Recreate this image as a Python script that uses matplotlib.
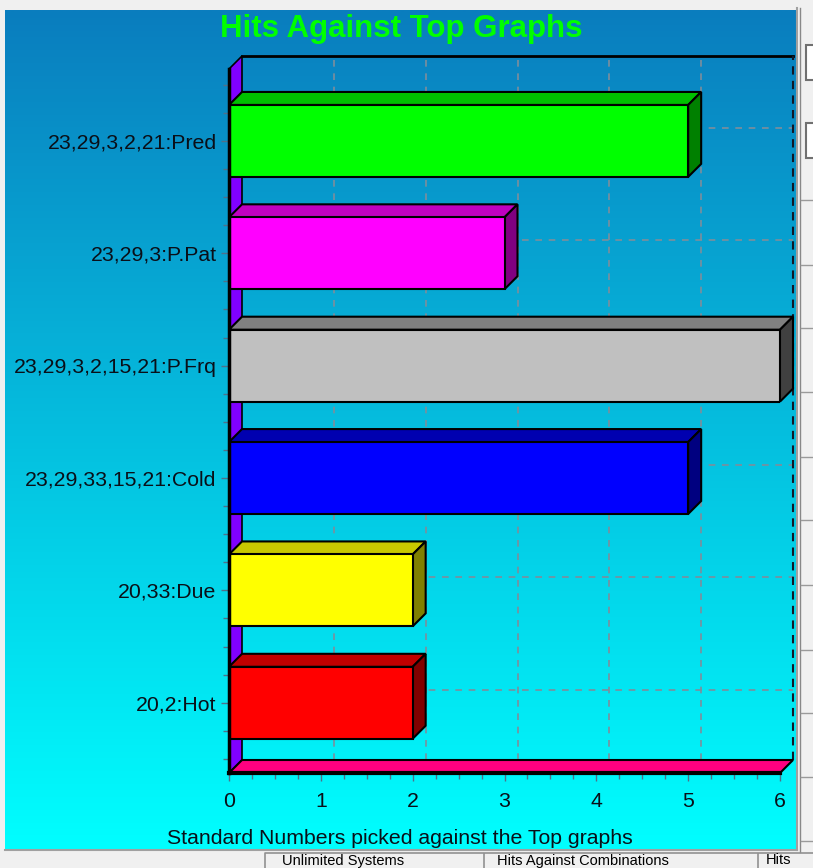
import numpy as np
import matplotlib
matplotlib.use("Agg")
import matplotlib.pyplot as plt
from matplotlib.patches import Polygon, Rectangle
from matplotlib.ticker import MultipleLocator

# ---------------- data ----------------
categories = ["20,2:Hot", "20,33:Due", "23,29,33,15,21:Cold",
              "23,29,3,2,15,21:P.Frq", "23,29,3:P.Pat", "23,29,3,2,21:Pred"]
hits = [2, 2, 5, 6, 3, 5]
front_colors = ["#FF0000", "#FFFF00", "#0000FF", "#C0C0C0", "#FF00FF", "#00FF00"]
top_colors = ["#C00000", "#C8C800", "#0000B0", "#808080", "#C000C0", "#00C000"]
side_colors = ["#800000", "#808000", "#000080", "#404040", "#800080", "#008000"]
x_ticks = [0, 1, 2, 3, 4, 5, 6]
title = "Hits Against Top Graphs"
xlabel = "Standard Numbers picked against the Top graphs"
tab_labels = ["Unlimited Systems", "Hits Against Combinations", "Hits"]

FONT = ["Liberation Sans", "DejaVu Sans"]
plt.rcParams["font.family"] = FONT

W, H, DPI = 813, 868, 100
fig = plt.figure(figsize=(W / DPI, H / DPI), dpi=DPI)
fig.patch.set_facecolor("#F0F0F0")

# ---------------- background layer (pixel coords) ----------------
bg = fig.add_axes([0, 0, 1, 1], zorder=0)
bg.set_xlim(0, W)
bg.set_ylim(H, 0)
bg.axis("off")
g = np.linspace(0, 1, 256).reshape(-1, 1, 1)
c_top = np.array([10, 125, 190]) / 255
c_bot = np.array([0, 255, 255]) / 255
img = c_top + (c_bot - c_top) * g
bg.imshow(img, extent=(5, 797, 850, 10), aspect="auto", interpolation="bilinear")
bg.plot([5, 797], [850, 850], color="#A0A0A0", lw=1.5)
bg.plot([797, 797], [8, 850], color="#A0A0A0", lw=1.5)
# right-hand UI panel
bg.plot([800, 800], [8, 852], color="#888888", lw=1)
for yy in [45, 123]:
    bg.add_patch(Rectangle((806, yy), 10, 35, facecolor="white", edgecolor="#707070", lw=1.5))
for yy in [200, 265, 328, 392, 457, 520, 585, 650, 713, 777, 841]:
    bg.plot([801, 813], [yy, yy], color="#9a9a9a", lw=1)
# bottom tabs
for x0, x1 in [(265, 483), (484, 757), (758, 830)]:
    bg.plot([x0, x0, x1], [868, 853, 853], color="#909090", lw=1.2)
for x, lab in zip([282, 497, 766], tab_labels):
    bg.text(x, 860.5, lab, fontsize=10.5, va="center", ha="left", color="#000000")

# ---------------- main axes (front plane) ----------------
L, R, T, B = 229, 780, 69, 773
ax = fig.add_axes([L / W, 1 - B / H, (R - L) / W, (B - T) / H], zorder=1)
ax.patch.set_visible(False)
ylo, yhi = -0.625, 5.64
ax.set_xlim(0, 6)
ax.set_ylim(ylo, yhi)

depth = 13
dx = depth * 6 / (R - L)
dy = depth * (yhi - ylo) / (B - T)

grid_kw = dict(color="#7d8e9c", lw=1.2, ls=(0, (4, 4)), clip_on=False, zorder=1)
for k in x_ticks[1:-1]:
    ax.plot([k + dx, k + dx], [ylo + dy, yhi + dy], **grid_kw)
for i in range(len(categories)):
    ax.plot([dx, 6 + dx], [i + dy, i + dy], **grid_kw)
ax.plot([dx, 6 + dx], [yhi + dy, yhi + dy], color="black", lw=2, clip_on=False, zorder=1)
ax.plot([6 + dx, 6 + dx], [ylo + dy, yhi + dy], color="#101828", lw=1.5,
        ls=(0, (4, 3)), clip_on=False, zorder=1)

# left wall and floor
ax.add_patch(Polygon([(0, ylo), (0, yhi), (dx, yhi + dy), (dx, ylo + dy)],
                     closed=True, facecolor="#8000FF", edgecolor="black", lw=1.2,
                     clip_on=False, zorder=2))
ax.add_patch(Polygon([(0, ylo), (6, ylo), (6 + dx, ylo + dy), (dx, ylo + dy)],
                     closed=True, facecolor="#FF0080", edgecolor="black", lw=1.5,
                     clip_on=False, zorder=2))

# bars
bh = 0.64
ypos = np.arange(len(categories))
ax.barh(ypos, hits, height=bh, color=front_colors, edgecolor="black", lw=1.5, zorder=4)
for i, v in enumerate(hits):
    y0, y1 = i - bh / 2, i + bh / 2
    ax.add_patch(Polygon([(0, y1), (v, y1), (v + dx, y1 + dy), (dx, y1 + dy)], closed=True,
                         facecolor=top_colors[i], edgecolor="black", lw=1.5,
                         clip_on=False, zorder=3))
    ax.add_patch(Polygon([(v, y0), (v + dx, y0 + dy), (v + dx, y1 + dy), (v, y1)], closed=True,
                         facecolor=side_colors[i], edgecolor="black", lw=1.5,
                         clip_on=False, zorder=3))

# axes, ticks
for s in ["top", "right"]:
    ax.spines[s].set_visible(False)
ax.spines["left"].set_linewidth(2.5)
ax.spines["bottom"].set_linewidth(3)
ax.spines["left"].set_zorder(5)
ax.spines["bottom"].set_zorder(5)

ax.set_yticks(ypos)
ax.set_yticklabels(categories)
ax.yaxis.set_minor_locator(MultipleLocator(0.25))
ax.set_xticks(x_ticks)
ax.set_xticklabels([str(t) for t in x_ticks])
ax.xaxis.set_minor_locator(MultipleLocator(0.25))
ax.tick_params(axis="both", which="major", direction="out", length=6, width=1,
               color="#50708a", labelsize=15.3, labelcolor="#0a0f18")
ax.tick_params(axis="both", which="minor", direction="out", length=4, width=1,
               color="#50708a")
ax.tick_params(axis="y", pad=3)
ax.tick_params(axis="x", pad=8)

fig.text(401 / W, 1 - 29 / H, title, fontsize=22.5, fontweight="bold",
         color="#00FF00", ha="center", va="center")
fig.text(400 / W, 1 - 838 / H, xlabel, fontsize=15.3, color="#0a0f18",
         ha="center", va="center")

fig.savefig("out.png", dpi=DPI)
